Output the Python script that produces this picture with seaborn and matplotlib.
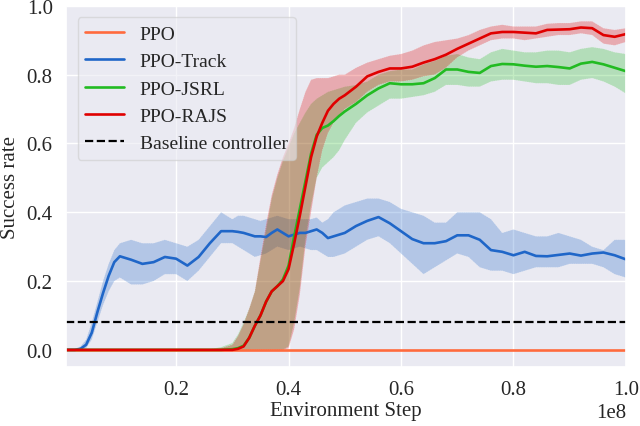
import matplotlib
matplotlib.use("Agg")
import matplotlib.pyplot as plt
import numpy as np
import pandas as pd
import seaborn as sns

# environment steps (in units of 1e8)
steps = [0.004, 0.02, 0.03, 0.04, 0.05, 0.06, 0.07, 0.08, 0.09, 0.10,
         0.12, 0.14, 0.16, 0.18, 0.20, 0.22, 0.24, 0.26, 0.28,
         0.30, 0.31, 0.32, 0.33, 0.34, 0.35, 0.36, 0.37, 0.38, 0.39, 0.40,
         0.41, 0.42, 0.43, 0.44, 0.45, 0.46, 0.47, 0.48, 0.49, 0.50,
         0.52, 0.54, 0.56, 0.58, 0.60, 0.62, 0.64, 0.66, 0.68, 0.70,
         0.72, 0.74, 0.76, 0.78, 0.80, 0.82, 0.84, 0.86, 0.88, 0.90,
         0.92, 0.94, 0.96, 0.98, 1.00]

ppo = [0.0] * len(steps)
ppo_lo = [0.0] * len(steps)
ppo_hi = [0.0] * len(steps)

track = [0.0, 0.0, 0.003, 0.015, 0.05, 0.11, 0.165, 0.215, 0.255, 0.272,
         0.262, 0.25, 0.255, 0.27, 0.265, 0.245, 0.27, 0.31, 0.345,
         0.345, 0.343, 0.34, 0.335, 0.33, 0.33, 0.328, 0.34, 0.35, 0.34, 0.33,
         0.335, 0.34, 0.34, 0.345, 0.35, 0.34, 0.325, 0.33, 0.335, 0.34,
         0.36, 0.375, 0.386, 0.368, 0.345, 0.322, 0.31, 0.31, 0.316, 0.333,
         0.333, 0.32, 0.29, 0.285, 0.275, 0.285, 0.273, 0.272, 0.276, 0.28,
         0.274, 0.28, 0.283, 0.275, 0.263]
track_lo = [0.0, 0.0, 0.0, 0.005, 0.03, 0.08, 0.13, 0.17, 0.2, 0.21,
            0.19, 0.19, 0.2, 0.22, 0.22, 0.2, 0.23, 0.27, 0.31,
            0.31, 0.30, 0.29, 0.28, 0.27, 0.275, 0.28, 0.29, 0.3, 0.295, 0.29,
            0.295, 0.3, 0.295, 0.29, 0.29, 0.28, 0.27, 0.27, 0.275, 0.28,
            0.30, 0.32, 0.33, 0.31, 0.28, 0.25, 0.22, 0.24, 0.26, 0.28,
            0.27, 0.24, 0.23, 0.23, 0.22, 0.23, 0.24, 0.24, 0.24, 0.25,
            0.25, 0.25, 0.24, 0.22, 0.21]
track_hi = [0.0, 0.003, 0.01, 0.03, 0.08, 0.14, 0.2, 0.25, 0.29, 0.31,
            0.32, 0.31, 0.31, 0.32, 0.31, 0.3, 0.32, 0.36, 0.40,
            0.38, 0.39, 0.39, 0.385, 0.38, 0.375, 0.38, 0.385, 0.39, 0.385, 0.38,
            0.38, 0.38, 0.38, 0.38, 0.385, 0.37, 0.38, 0.40, 0.41, 0.42,
            0.43, 0.44, 0.44, 0.43, 0.41, 0.40, 0.39, 0.37, 0.37, 0.40,
            0.40, 0.40, 0.38, 0.34, 0.35, 0.34, 0.33, 0.33, 0.34, 0.33,
            0.32, 0.30, 0.29, 0.32, 0.32]

jsrl = [0.0, 0.0, 0.0, 0.0, 0.0, 0.0, 0.0, 0.0, 0.0, 0.0,
        0.0, 0.0, 0.0, 0.0, 0.0, 0.0, 0.0, 0.0, 0.0,
        0.002, 0.005, 0.012, 0.035, 0.07, 0.1, 0.14, 0.17, 0.185, 0.205, 0.245,
        0.33, 0.41, 0.49, 0.57, 0.625, 0.645, 0.652, 0.665, 0.68, 0.693,
        0.715, 0.74, 0.76, 0.775, 0.772, 0.772, 0.775, 0.79, 0.815, 0.815,
        0.808, 0.805, 0.825, 0.831, 0.83, 0.826, 0.823, 0.825, 0.822, 0.818,
        0.832, 0.837, 0.83, 0.82, 0.81]
jsrl_lo = [0.0, 0.0, 0.0, 0.0, 0.0, 0.0, 0.0, 0.0, 0.0, 0.0,
           0.0, 0.0, 0.0, 0.0, 0.0, 0.0, 0.0, 0.0, 0.0,
           0.0, 0.0, 0.0, 0.0, 0.0, 0.0, 0.0, 0.0, 0.0, 0.0, 0.01,
           0.08, 0.18, 0.32, 0.42, 0.5, 0.53, 0.545, 0.56, 0.58, 0.61,
           0.66, 0.69, 0.71, 0.73, 0.73, 0.735, 0.74, 0.75, 0.77, 0.77,
           0.765, 0.765, 0.78, 0.785, 0.785, 0.78, 0.775, 0.775, 0.77, 0.77,
           0.785, 0.79, 0.78, 0.765, 0.745]
jsrl_hi = [0.0, 0.0, 0.0, 0.0, 0.0, 0.0, 0.0, 0.0, 0.0, 0.0,
           0.0, 0.0, 0.0, 0.0, 0.0, 0.0, 0.0, 0.002, 0.008,
           0.02, 0.045, 0.08, 0.12, 0.17, 0.26, 0.35, 0.44, 0.5, 0.55, 0.59,
           0.63, 0.66, 0.69, 0.715, 0.73, 0.74, 0.75, 0.755, 0.76, 0.765,
           0.77, 0.78, 0.80, 0.81, 0.815, 0.815, 0.83, 0.84, 0.855, 0.86,
           0.85, 0.845, 0.865, 0.875, 0.87, 0.865, 0.865, 0.87, 0.87, 0.865,
           0.875, 0.88, 0.875, 0.865, 0.86]

rajs = [0.0, 0.0, 0.0, 0.0, 0.0, 0.0, 0.0, 0.0, 0.0, 0.0,
        0.0, 0.0, 0.0, 0.0, 0.0, 0.0, 0.0, 0.0, 0.0,
        0.0, 0.003, 0.01, 0.035, 0.07, 0.1, 0.14, 0.17, 0.185, 0.2, 0.235,
        0.31, 0.39, 0.475, 0.56, 0.62, 0.66, 0.695, 0.715, 0.73, 0.74,
        0.765, 0.795, 0.808, 0.818, 0.818, 0.823, 0.835, 0.845, 0.858, 0.875,
        0.89, 0.905, 0.92, 0.924, 0.924, 0.922, 0.92, 0.93, 0.931, 0.932,
        0.937, 0.935, 0.915, 0.91, 0.918]
rajs_lo = [0.0, 0.0, 0.0, 0.0, 0.0, 0.0, 0.0, 0.0, 0.0, 0.0,
           0.0, 0.0, 0.0, 0.0, 0.0, 0.0, 0.0, 0.0, 0.0,
           0.0, 0.0, 0.0, 0.0, 0.0, 0.0, 0.0, 0.0, 0.0, 0.0, 0.005,
           0.06, 0.16, 0.3, 0.4, 0.5, 0.58, 0.63, 0.66, 0.68, 0.70,
           0.72, 0.75, 0.77, 0.78, 0.78, 0.785, 0.795, 0.8, 0.82, 0.85,
           0.87, 0.885, 0.9, 0.905, 0.905, 0.9, 0.905, 0.91, 0.915, 0.915,
           0.92, 0.915, 0.89, 0.885, 0.895]
rajs_hi = [0.0, 0.0, 0.0, 0.0, 0.0, 0.0, 0.0, 0.0, 0.0, 0.0,
           0.0, 0.0, 0.0, 0.0, 0.0, 0.0, 0.0, 0.0, 0.005,
           0.015, 0.04, 0.075, 0.12, 0.17, 0.27, 0.365, 0.45, 0.51, 0.56, 0.60,
           0.645, 0.70, 0.75, 0.785, 0.79, 0.79, 0.79, 0.795, 0.80, 0.80,
           0.82, 0.835, 0.845, 0.855, 0.86, 0.87, 0.885, 0.895, 0.9, 0.905,
           0.915, 0.93, 0.94, 0.945, 0.94, 0.94, 0.94, 0.948, 0.95, 0.95,
           0.955, 0.955, 0.935, 0.93, 0.935]

baseline = 0.08

methods = ["PPO", "PPO-Track", "PPO-JSRL", "PPO-RAJS"]
means = [ppo, track, jsrl, rajs]
lows = [ppo_lo, track_lo, jsrl_lo, rajs_lo]
highs = [ppo_hi, track_hi, jsrl_hi, rajs_hi]
colors = ["#ff6a3d", "#1f66c8", "#22bb22", "#e00000"]

sns.set_theme(style="darkgrid")
plt.rcParams["font.family"] = "serif"
plt.rcParams["font.serif"] = ["Liberation Serif", "DejaVu Serif"]

x = np.array(steps) * 1e8
frames = []
for name, m in zip(methods, means):
    frames.append(pd.DataFrame({"step": x, "success": m, "method": name}))
df = pd.concat(frames, ignore_index=True)

fig, ax = plt.subplots(figsize=(6.4, 4.27), dpi=100)

for name, lo, hi, c in zip(methods, lows, highs, colors):
    ax.fill_between(x, lo, hi, color=c, alpha=0.27, linewidth=0.6,
                    edgecolor="white", linestyle=":")

sns.lineplot(data=df, x="step", y="success", hue="method",
             palette=dict(zip(methods, colors)), linewidth=1.9, ax=ax)
ax.axhline(baseline, color="black", linestyle="--", linewidth=1.6,
           label="Baseline controller")

ax.set_xlim(x[0], 1e8)
ax.set_ylim(-0.05, 1.0)
ax.set_xlabel("Environment Step", fontsize=15, labelpad=1)
ax.set_ylabel("Success rate", fontsize=15, labelpad=5)
ax.tick_params(labelsize=15)
ax.xaxis.get_offset_text().set_fontsize(15)

handles, labels = ax.get_legend_handles_labels()
ax.legend(handles, labels, loc="upper left", fontsize=14, framealpha=0.6,
          handlelength=2.0, borderaxespad=0.6)

fig.subplots_adjust(left=0.103, right=0.978, top=0.984, bottom=0.138)
plt.savefig("out.png", dpi=100)
